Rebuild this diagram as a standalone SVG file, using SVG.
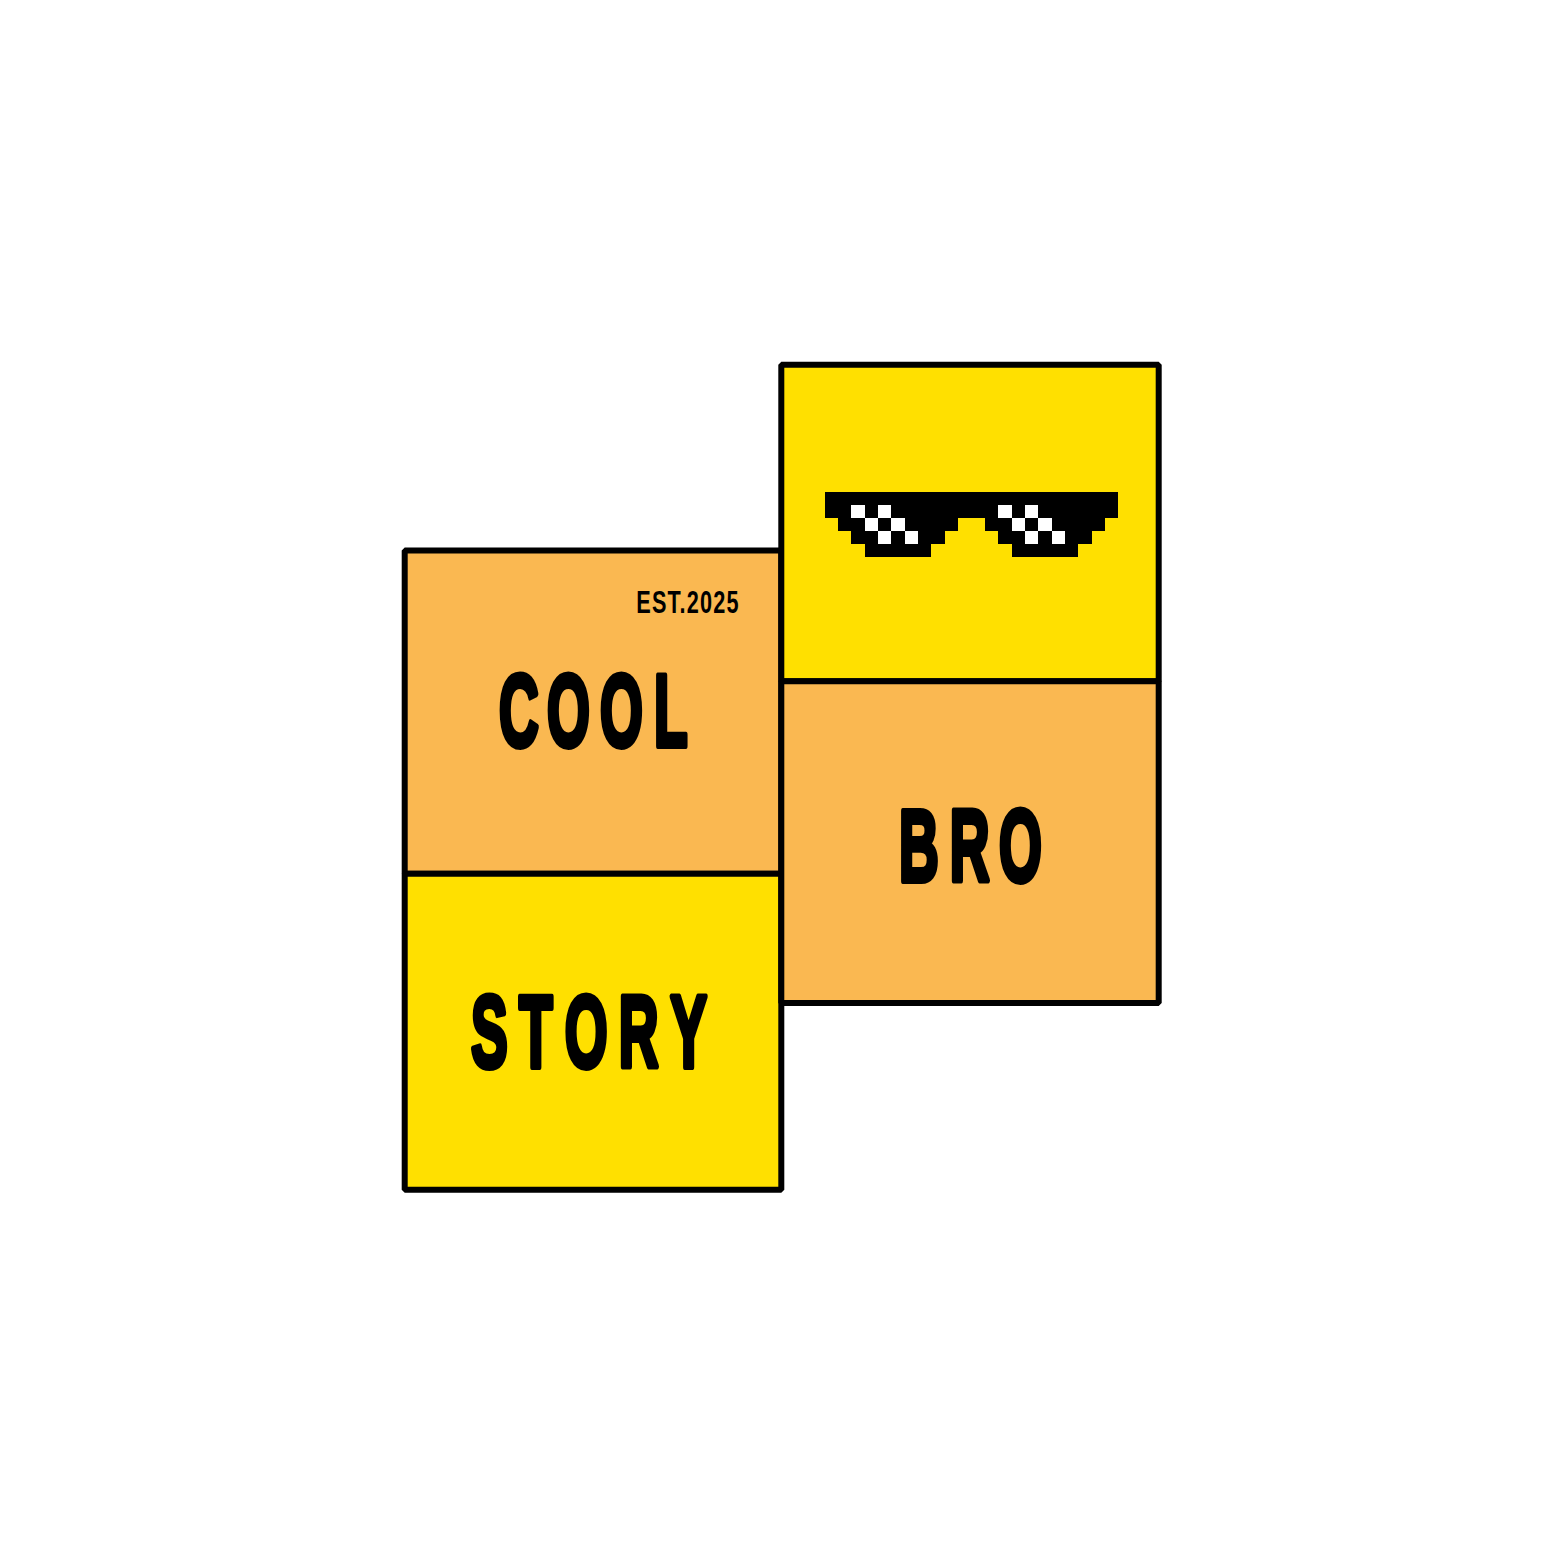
<svg xmlns="http://www.w3.org/2000/svg" width="1563" height="1563" viewBox="0 0 1563 1563">
<style>
.panel{stroke:#000;stroke-width:6;stroke-linejoin:bevel}
.y{fill:#ffe000}
.o{fill:#fab851}
.big{font-family:"Liberation Sans Narrow","Liberation Sans",Arial,sans-serif;font-weight:700;font-size:102px;fill:#000;stroke:#000;stroke-width:6;stroke-linejoin:round}
.small{font-family:"Liberation Sans Narrow","Liberation Sans",Arial,sans-serif;font-weight:700;font-size:31px;fill:#000}
</style>
<rect width="1563" height="1563" fill="#fff"/>
<g id="panel-cool"><rect class="panel o" x="404.7" y="550.4" width="376.6" height="323.3"/>
<text class="small" transform="scale(.7 1)" x="909" y="613" textLength="146" lengthAdjust="spacing">EST.2025</text>
<text class="big" transform="scale(.54 1)" x="924 1013 1111 1211" y="746">COOL</text></g>
<g id="panel-story"><rect class="panel y" x="404.7" y="873.7" width="376.6" height="316"/>
<text class="big" transform="scale(.54 1)" x="872 961 1046 1146 1241" y="1067">STORY</text></g>
<g id="panel-shades"><rect class="panel y" x="781.3" y="364.7" width="377.4" height="316.6"/>
<g id="shades">
<path fill="#000" d="M825 492H1118V518H1105V531H1092V544H1078V557H1012V544H998V531H985V518H958V531H945V544H931V557H865V544H851V531H838V518H825Z"/>
<path fill="#fff" d="M851 505h14v13h-14zM878 505h13v13h-13zM865 518h13v13h-13zM891 518h14v13h-14zM878 531h13v13h-13zM905 531h13v13h-13zM998 505h14v13h-14zM1025 505h13v13h-13zM1012 518h13v13h-13zM1038 518h14v13h-14zM1025 531h13v13h-13zM1052 531h13v13h-13z"/>
</g></g>
<g id="panel-bro"><rect class="panel o" x="781.3" y="681.3" width="377.4" height="321.7"/>
<text class="big" transform="scale(.54 1)" x="1665 1759 1850" y="881">BRO</text></g>
</svg>
